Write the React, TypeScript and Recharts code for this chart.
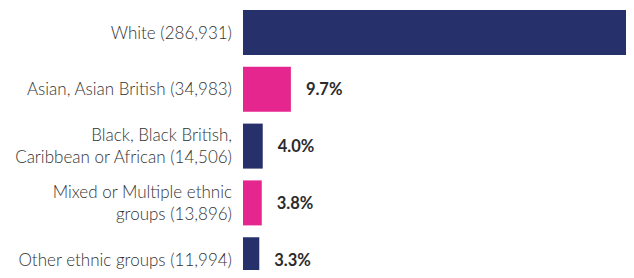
import React from 'react';
import { BarChart, Bar, XAxis, YAxis, Cell, LabelList } from 'recharts';

const groups = [
  ['White'],
  ['Asian, Asian British'],
  ['Black, Black British,', 'Caribbean or African'],
  ['Mixed or Multiple ethnic', 'groups'],
  ['Other ethnic groups'],
];
const counts = [286931, 34983, 14506, 13896, 11994];
const shares = [79.2, 9.7, 4.0, 3.8, 3.3];
const barColors = ['#26316b', '#e6268f', '#26316b', '#e6268f', '#26316b'];

const data = groups.map((g, i) => ({
  name: String(i),
  lines: g,
  count: counts[i],
  share: shares[i],
}));

const W = 634;
const H = 290;
const AXIS_W = 243;

const fmtCount = (n: number) => n.toLocaleString('en-GB');

const GroupTick = (props: any) => {
  const { y, payload } = props;
  const row = data[Number(payload.value)];
  const lines = [...row.lines];
  lines[lines.length - 1] = `${lines[lines.length - 1]} (${fmtCount(row.count)})`;
  const lh = 22;
  const top = y - ((lines.length - 1) * lh) / 2;
  const tx = AXIS_W - 11;
  return (
    <text x={tx} y={top} textAnchor="end" fill="#333" fontSize={17} fontWeight={300} fontFamily="Lato, sans-serif">
      {lines.map((l, i) => (
        <tspan key={i} x={tx} y={top + i * lh} dy="0.36em">
          {l}
        </tspan>
      ))}
    </text>
  );
};

const ShareLabel = (props: any) => {
  const { x, y, width, height, value } = props;
  const lx = x + width + 15;
  if (lx + 30 > W) return null;
  return (
    <text x={lx} y={y + height / 2} dy="0.36em" fill="#2b2b2b" fontSize={16.5} fontWeight={700} fontFamily="Lato, sans-serif">
      {`${value.toFixed(1)}%`}
    </text>
  );
};

export default function App() {
  return (
    <div style={{ margin: -8, width: W, height: 278, overflow: 'hidden', background: '#fff' }}>
      <BarChart width={W} height={H} data={data} layout="vertical" margin={{ top: 4, right: 0, bottom: 2, left: 0 }} barSize={45}>
        <XAxis type="number" domain={[0, 79.2]} hide allowDataOverflow />
        <YAxis type="category" dataKey="name" width={AXIS_W} axisLine={false} tickLine={false} tick={<GroupTick />} interval={0} />
        <Bar dataKey="share" isAnimationActive={false}>
          {data.map((d, i) => (
            <Cell key={d.name} fill={barColors[i]} />
          ))}
          <LabelList dataKey="share" content={<ShareLabel />} />
        </Bar>
      </BarChart>
    </div>
  );
}
